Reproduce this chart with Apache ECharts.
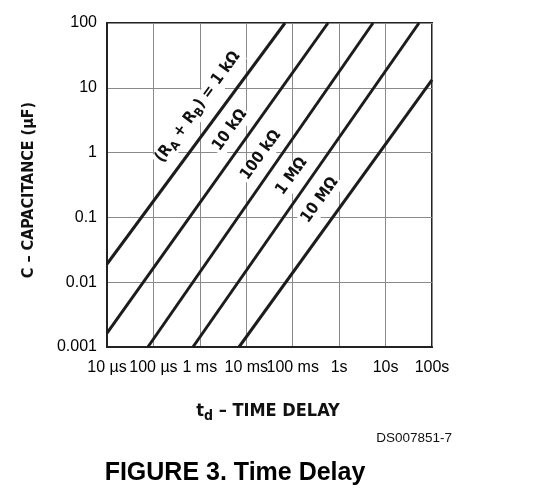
<!DOCTYPE html>
<html>
<head>
<meta charset="utf-8">
<script src="https://cdn.jsdelivr.net/npm/echarts@6/dist/echarts.min.js"></script>
<style>
  html, body { margin: 0; padding: 0; background: #fff; }
  #chart { width: 556px; height: 491px; }
</style>
</head>
<body>
<div id="chart"></div>
<script>
// tick labels
const xTickLabels = ['10 µs', '100 µs', '1 ms', '10 ms', '100 ms', '1s', '10s', '100s'];
const yTickLabels = ['0.001', '0.01', '0.1', '1', '10', '100'];

// RA + RB lines: time delay (s) vs capacitance (µF)
const resistances = ['1 kΩ', '10 kΩ', '100 kΩ', '1 MΩ', '10 MΩ'];
const lineStart = [[1e-5, 0.0191], [1e-5, 0.00164], [7.6e-5, 0.001], [7.1e-4, 0.001], [6.97e-3, 0.001]];
const lineEnd = [[0.0682, 100], [0.575, 100], [5.36, 100], [52.5, 100], [100, 13.2]];

// where each line's name sits (data units)
const labelAt = [[9.6e-4, 4.88], [4.69e-3, 2.15], [0.0218, 0.887], [0.101, 0.42], [0.406, 0.179]];

const FONT = "'Liberation Sans', Arial, sans-serif";
const NARROW = "'Liberation Sans Narrow', 'DejaVu Sans Condensed', 'Liberation Sans', sans-serif";

const chart = echarts.init(document.getElementById('chart'));

function labelText(i) {
  if (i === 0) return '{n|(R}{s|A}{n| + R}{s|B}{n|) = ' + resistances[0] + '}';
  return '{n|' + resistances[i] + '}';
}

const series = resistances.map((r, i) => ({
  name: r,
  type: 'line',
  data: [lineStart[i], lineEnd[i]],
  showSymbol: false,
  silent: true,
  lineStyle: { color: '#1c1c1c', width: 3 },
  markPoint: {
    symbol: 'circle',
    symbolSize: 1,
    itemStyle: { color: 'rgba(0,0,0,0)' },
    data: [{ coord: labelAt[i] }],
    label: {
      show: true,
      position: 'inside',
      rotate: 54,
      formatter: () => labelText(i),
      backgroundColor: '#fff',
      padding: [0, 2],
      rich: {
        n: { fontFamily: NARROW, fontSize: 16, fontWeight: 'bold', color: '#111', lineHeight: 19, verticalAlign: 'top' },
        s: { fontFamily: NARROW, fontSize: 12, fontWeight: 'bold', color: '#111', lineHeight: 11, verticalAlign: 'bottom' }
      }
    }
  }
}));

const option = {
  animation: false,
  grid: {
    left: 107, right: 124, top: 23, bottom: 144,
    show: true, borderColor: '#222', borderWidth: 2, backgroundColor: '#fff'
  },
  xAxis: {
    type: 'log',
    logBase: 10,
    min: 1e-5,
    max: 100,
    axisLine: { show: true, lineStyle: { color: '#222', width: 2 } },
    axisTick: { show: false },
    splitLine: { show: true, lineStyle: { color: '#8a8a8a', width: 1 } },
    axisLabel: {
      margin: 13,
      fontFamily: FONT,
      fontSize: 16,
      color: '#000',
      formatter: v => xTickLabels[Math.round(Math.log10(v)) + 5]
    }
  },
  yAxis: {
    type: 'log',
    logBase: 10,
    min: 0.001,
    max: 100,
    axisLine: { show: true, lineStyle: { color: '#222', width: 2 } },
    axisTick: { show: false },
    splitLine: { show: true, lineStyle: { color: '#8a8a8a', width: 1 } },
    axisLabel: {
      margin: 10,
      fontFamily: FONT,
      fontSize: 16,
      color: '#000',
      formatter: v => yTickLabels[Math.round(Math.log10(v)) + 3]
    }
  },
  series: series,
  graphic: [
    {
      type: 'text',
      x: 29, y: 190,
      rotation: Math.PI / 2,
      style: {
        text: 'C – CAPACITANCE (µF)',
        font: 'bold 16px ' + NARROW,
        fill: '#111',
        align: 'center',
        verticalAlign: 'middle'
      }
    },
    {
      type: 'text',
      x: 268, y: 413,
      style: {
        text: '{n|t}{s|d}{n| – TIME DELAY}',
        align: 'center',
        verticalAlign: 'middle',
        rich: {
          n: { fontFamily: NARROW, fontSize: 18, fontWeight: 'bold', fill: '#111', lineHeight: 21, verticalAlign: 'top' },
          s: { fontFamily: NARROW, fontSize: 14, fontWeight: 'bold', fill: '#111', lineHeight: 12, verticalAlign: 'bottom' }
        }
      }
    },
    {
      type: 'text',
      x: 452, y: 438,
      style: {
        text: 'DS007851-7',
        font: '13.5px ' + FONT,
        fill: '#111',
        align: 'right',
        verticalAlign: 'middle'
      }
    },
    {
      type: 'text',
      x: 235, y: 473,
      style: {
        text: 'FIGURE 3. Time Delay',
        font: 'bold 25px ' + FONT,
        fill: '#000',
        align: 'center',
        verticalAlign: 'middle'
      }
    }
  ]
};

chart.setOption(option);
</script>
</body>
</html>
